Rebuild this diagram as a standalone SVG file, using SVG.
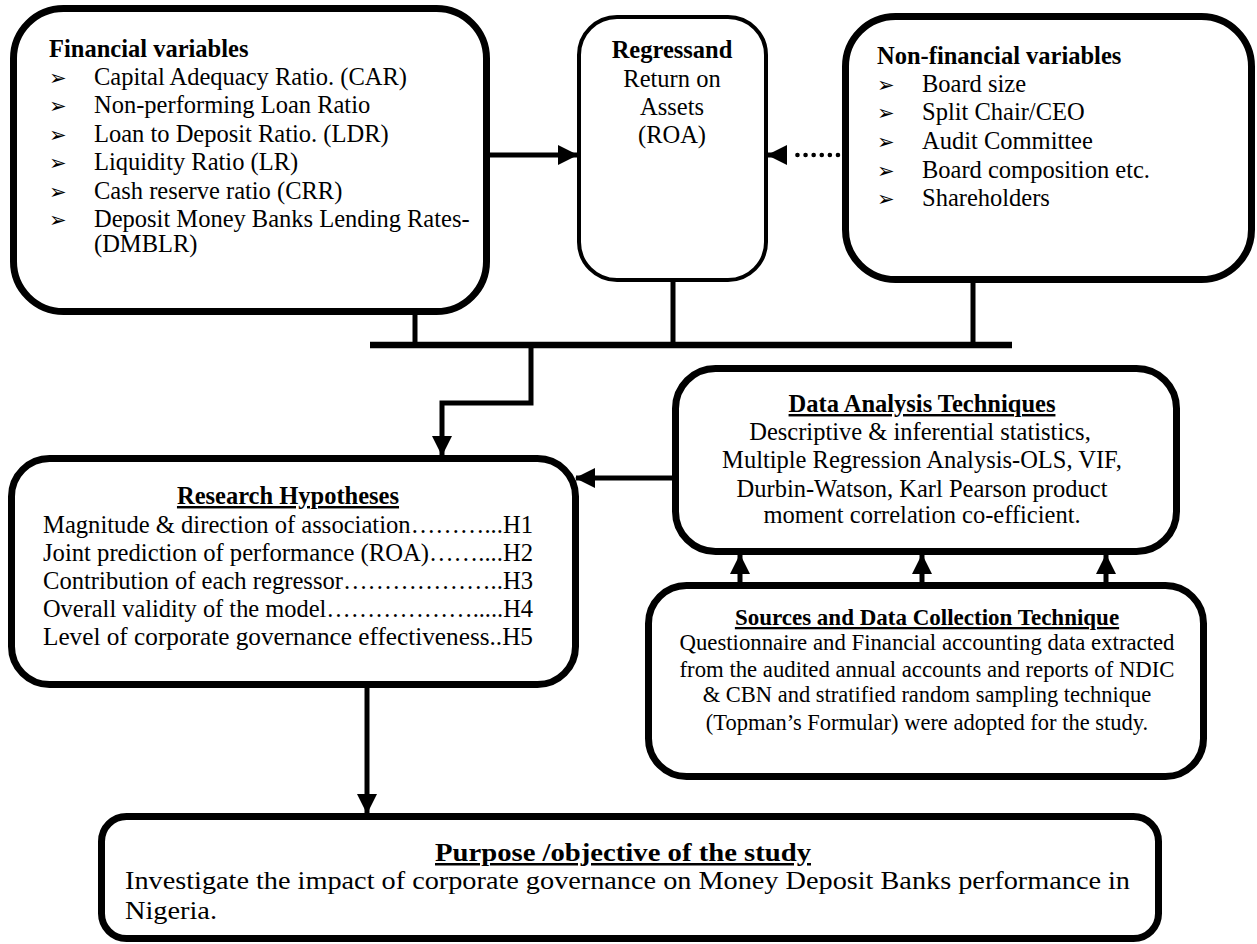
<svg xmlns="http://www.w3.org/2000/svg" width="1257" height="944" viewBox="0 0 1257 944">
<style>
.box{fill:#fff;stroke:#000}
.t{font-family:"Liberation Serif","Times New Roman",serif;font-size:24.5px;fill:#000}
.b{font-weight:bold}
.u{text-decoration:underline}
.c{text-anchor:middle}
.bul{font-family:"DejaVu Sans",sans-serif;font-size:21px;fill:#000}
.ln{fill:none;stroke:#000;stroke-width:5}
</style>
<defs>
<marker id="ah" markerUnits="userSpaceOnUse" markerWidth="20" markerHeight="22" viewBox="0 0 20 22" refX="19" refY="11" orient="auto">
<path d="M0,1 L20,11 L0,21 Z" fill="#000"/>
</marker>
</defs>
<rect width="1257" height="944" fill="#fff"/>

<g id="connectors">
<line class="ln" x1="490" y1="155" x2="577" y2="155" marker-end="url(#ah)"/>
<line x1="838" y1="155" x2="790" y2="155" stroke="#000" stroke-width="4.5" stroke-dasharray="0.1 8" stroke-linecap="round"/>
<line class="ln" x1="786" y1="155" x2="768" y2="155" marker-end="url(#ah)"/>
<line class="ln" x1="415" y1="314" x2="415" y2="345"/>
<line class="ln" x1="673" y1="281" x2="673" y2="345"/>
<line class="ln" x1="973" y1="282" x2="973" y2="345"/>
<line x1="370" y1="345" x2="1012" y2="345" stroke="#000" stroke-width="6.5"/>
<polyline class="ln" points="531,345 531,403 442,403 442,455" marker-end="url(#ah)"/>
<line class="ln" x1="672" y1="478" x2="576" y2="478" marker-end="url(#ah)"/>
<line class="ln" x1="740" y1="583" x2="740" y2="555" marker-end="url(#ah)"/>
<line class="ln" x1="922" y1="583" x2="922" y2="555" marker-end="url(#ah)"/>
<line class="ln" x1="1106" y1="583" x2="1106" y2="555" marker-end="url(#ah)"/>
<line class="ln" x1="367" y1="688" x2="367" y2="813" marker-end="url(#ah)"/>
</g>

<g id="financial">
<rect class="box" x="13.5" y="8.5" width="473" height="303" rx="50" stroke-width="7"/>
<text class="t b" x="49" y="57">Financial variables</text>
<g class="bul">
<text x="49" y="85">➢</text><text x="49" y="113">➢</text><text x="49" y="142">➢</text>
<text x="49" y="170">➢</text><text x="49" y="199">➢</text><text x="49" y="227">➢</text>
</g>
<text class="t" x="94" y="85">Capital Adequacy Ratio. (CAR)</text>
<text class="t" x="94" y="113">Non-performing Loan Ratio</text>
<text class="t" x="94" y="142">Loan to Deposit Ratio. (LDR)</text>
<text class="t" x="94" y="170">Liquidity Ratio (LR)</text>
<text class="t" x="94" y="199">Cash reserve ratio (CRR)</text>
<text class="t" x="94" y="227">Deposit Money Banks Lending Rates-</text>
<text class="t" x="94" y="252">(DMBLR)</text>
</g>

<g id="regressand">
<rect class="box" x="579" y="17" width="187" height="263" rx="38" stroke-width="4"/>
<text class="t b c" x="672" y="58">Regressand</text>
<text class="t c" x="672" y="87">Return on</text>
<text class="t c" x="672" y="115">Assets</text>
<text class="t c" x="672" y="143">(ROA)</text>
</g>

<g id="nonfinancial">
<rect class="box" x="845.5" y="16.5" width="406" height="263" rx="50" stroke-width="7"/>
<text class="t b" x="877" y="64">Non-financial variables</text>
<g class="bul">
<text x="877" y="92">➢</text><text x="877" y="120">➢</text><text x="877" y="149">➢</text>
<text x="877" y="178">➢</text><text x="877" y="206">➢</text>
</g>
<text class="t" x="922" y="92">Board size</text>
<text class="t" x="922" y="120">Split Chair/CEO</text>
<text class="t" x="922" y="149">Audit Committee</text>
<text class="t" x="922" y="178">Board composition etc.</text>
<text class="t" x="922" y="206">Shareholders</text>
</g>

<g id="hypotheses">
<rect class="box" x="11.5" y="458.5" width="564" height="226" rx="38" stroke-width="7"/>
<text class="t b u c" x="288" y="504">Research Hypotheses</text>
<text class="t" x="43" y="533" textLength="490" lengthAdjust="spacingAndGlyphs">Magnitude &amp; direction of association………...H1</text>
<text class="t" x="43" y="561" textLength="490" lengthAdjust="spacingAndGlyphs">Joint prediction of performance (ROA)……....H2</text>
<text class="t" x="43" y="589" textLength="490" lengthAdjust="spacingAndGlyphs">Contribution of each regressor………………..H3</text>
<text class="t" x="43" y="617" textLength="490" lengthAdjust="spacingAndGlyphs">Overall validity of the model……………….....H4</text>
<text class="t" x="43" y="645" textLength="490" lengthAdjust="spacingAndGlyphs">Level of corporate governance effectiveness..H5</text>
</g>

<g id="dataanalysis">
<rect class="box" x="675.5" y="368.5" width="501" height="183" rx="40" stroke-width="7"/>
<text class="t b u c" x="922" y="412">Data Analysis Techniques</text>
<text class="t c" x="920" y="440">Descriptive &amp; inferential statistics,</text>
<text class="t c" x="922" y="468">Multiple Regression Analysis-OLS, VIF,</text>
<text class="t c" x="922" y="497">Durbin-Watson, Karl Pearson product</text>
<text class="t c" x="922" y="523">moment correlation co-efficient.</text>
</g>

<g id="sources">
<rect class="box" x="648.5" y="585.5" width="555" height="191" rx="38" stroke-width="7"/>
<text class="t b u c" x="927" y="625" style="font-size:23px">Sources and Data Collection Technique</text>
<text class="t c" x="927" y="650" style="font-size:22.5px" textLength="495" lengthAdjust="spacingAndGlyphs">Questionnaire and Financial accounting data extracted</text>
<text class="t c" x="927" y="677" style="font-size:22.5px" textLength="495" lengthAdjust="spacingAndGlyphs">from the audited annual accounts and reports of NDIC</text>
<text class="t c" x="927" y="702" style="font-size:22.5px">&amp; CBN and stratified random sampling technique</text>
<text class="t c" x="927" y="730" style="font-size:22.5px">(Topman’s Formular) were adopted for the study.</text>
</g>

<g id="purpose">
<rect class="box" x="101.5" y="816.5" width="1057" height="122" rx="25" stroke-width="7"/>
<text class="t b u c" x="623" y="861" style="font-size:25px" textLength="376" lengthAdjust="spacingAndGlyphs">Purpose /objective of the study</text>
<text class="t" x="125" y="889" style="font-size:26px" textLength="1005" lengthAdjust="spacingAndGlyphs">Investigate the impact of corporate governance on Money Deposit Banks performance in</text>
<text class="t" x="125" y="919" style="font-size:26px" textLength="92" lengthAdjust="spacingAndGlyphs">Nigeria.</text>
</g>
</svg>
